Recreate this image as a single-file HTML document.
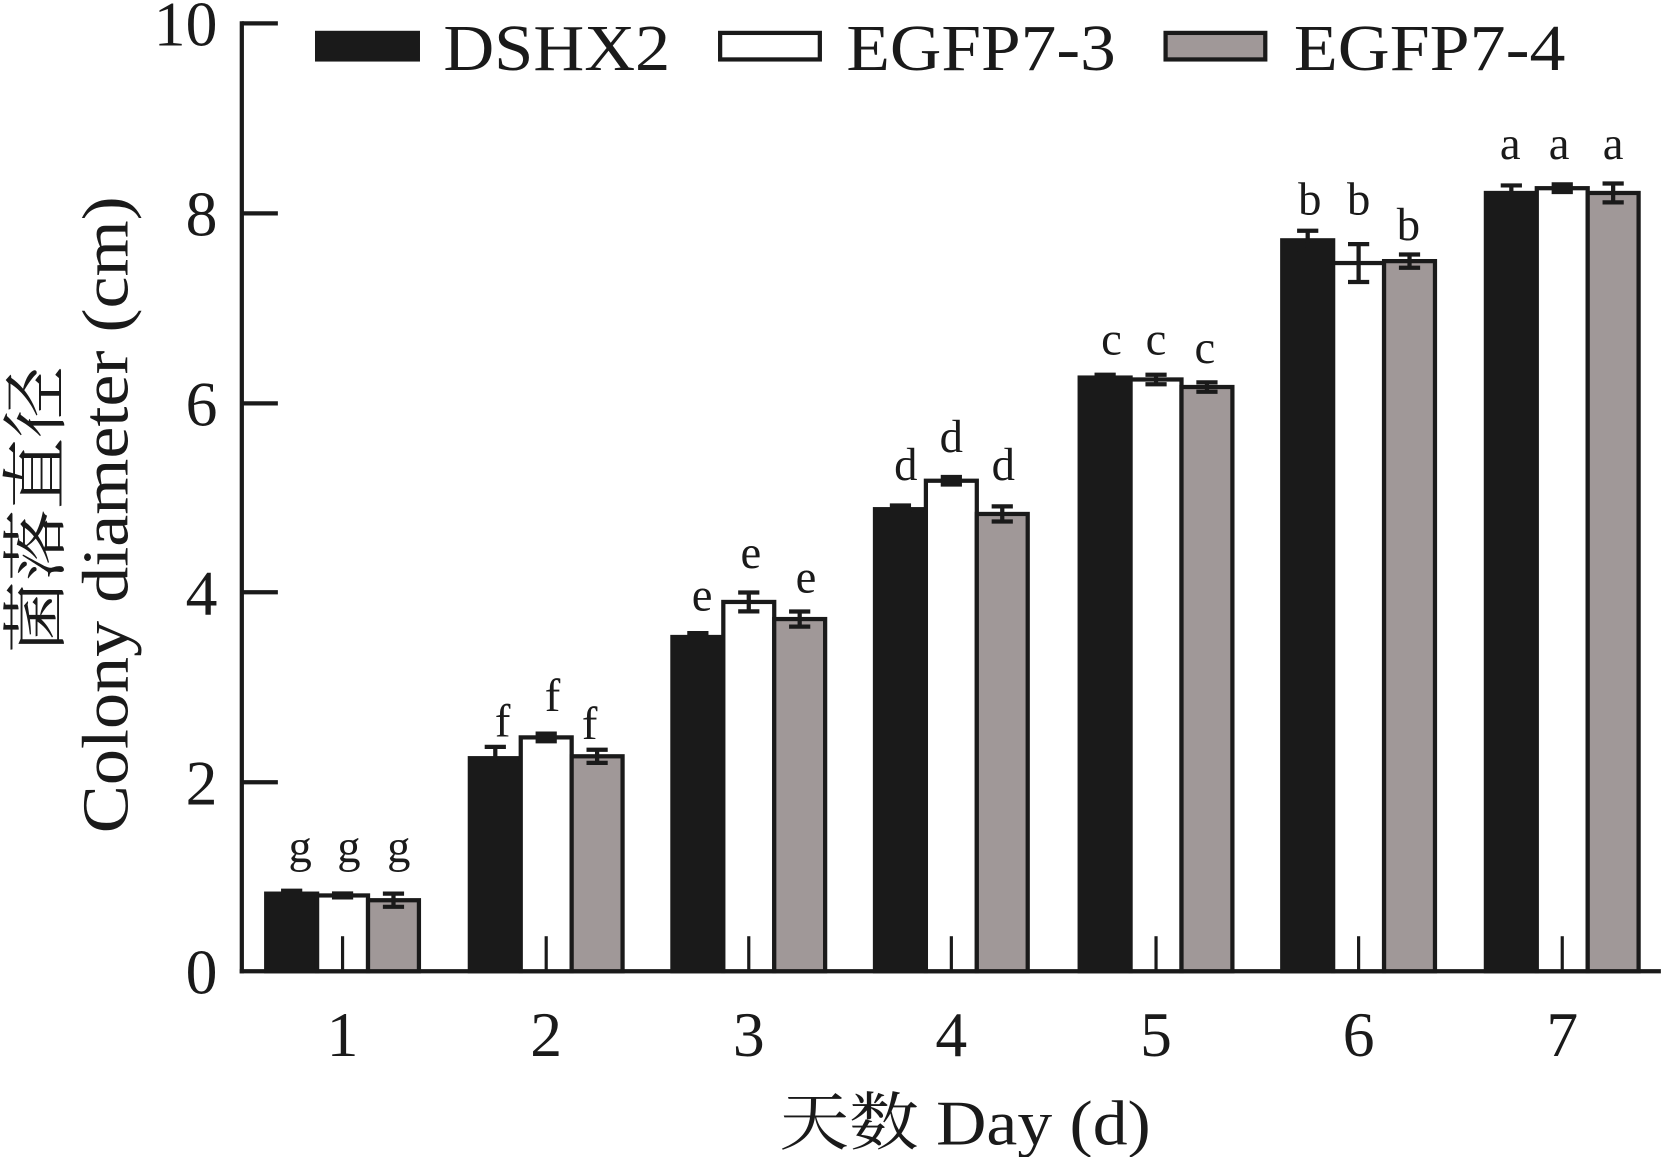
<!DOCTYPE html>
<html><head><meta charset="utf-8"><style>html,body{margin:0;padding:0;background:#fff}svg{display:block}</style></head><body>
<svg width="1663" height="1157" viewBox="0 0 1568 1090" preserveAspectRatio="none" xmlns="http://www.w3.org/2000/svg" font-family="Liberation Serif, Noto Serif CJK SC, serif">
<g stroke="#1a1a1a" stroke-width="4" fill="none">
<line x1="228" y1="20" x2="228" y2="917"/>
<line x1="226" y1="915" x2="1566" y2="915"/>
<line x1="228" y1="22" x2="262" y2="22"/>
<line x1="228" y1="201" x2="262" y2="201"/>
<line x1="228" y1="380" x2="262" y2="380"/>
<line x1="228" y1="558" x2="262" y2="558"/>
<line x1="228" y1="737" x2="262" y2="737"/>
</g>
<g font-size="60" text-anchor="end" fill="#1a1a1a">
<text x="205" y="43">10</text><text x="205" y="222">8</text><text x="205" y="401">6</text><text x="205" y="579">4</text><text x="205" y="758">2</text><text x="205" y="936">0</text>
</g>
<g stroke="#1a1a1a" stroke-width="4">
<!-- bars -->
<rect x="251" y="841.9" width="48" height="73.1" fill="#1a1a1a"/>
<rect x="299" y="843.6" width="48" height="71.4" fill="#fff"/>
<rect x="347" y="848.1" width="48" height="66.9" fill="#a09898"/>
<rect x="443" y="714.3" width="48" height="200.7" fill="#1a1a1a"/>
<rect x="491" y="694.7" width="48" height="220.3" fill="#fff"/>
<rect x="539" y="712.5" width="48" height="202.5" fill="#a09898"/>
<rect x="634" y="600.1" width="48" height="314.9" fill="#1a1a1a"/>
<rect x="682" y="567.1" width="48" height="347.9" fill="#fff"/>
<rect x="730" y="583.2" width="48" height="331.8" fill="#a09898"/>
<rect x="825" y="479.7" width="48" height="435.3" fill="#1a1a1a"/>
<rect x="873" y="452.9" width="48" height="462.1" fill="#fff"/>
<rect x="921" y="484.2" width="48" height="430.8" fill="#a09898"/>
<rect x="1018" y="355.7" width="48" height="559.3" fill="#1a1a1a"/>
<rect x="1066" y="357.5" width="48" height="557.5" fill="#fff"/>
<rect x="1114" y="364.6" width="48" height="550.4" fill="#a09898"/>
<rect x="1209" y="226.4" width="48" height="688.6" fill="#1a1a1a"/>
<rect x="1257" y="247.8" width="48" height="667.2" fill="#fff"/>
<rect x="1305" y="246.0" width="48" height="669" fill="#a09898"/>
<rect x="1401" y="181.8" width="48" height="733.2" fill="#1a1a1a"/>
<rect x="1449" y="177.3" width="48" height="737.7" fill="#fff"/>
<rect x="1497" y="181.8" width="48" height="733.2" fill="#a09898"/>
</g>
<g stroke="#1a1a1a" stroke-width="3">
<line x1="323" y1="882" x2="323" y2="915"/><line x1="515" y1="882" x2="515" y2="915"/><line x1="706" y1="882" x2="706" y2="915"/><line x1="897" y1="882" x2="897" y2="915"/><line x1="1090" y1="882" x2="1090" y2="915"/><line x1="1281" y1="882" x2="1281" y2="915"/><line x1="1473" y1="882" x2="1473" y2="915"/>
</g>
<g stroke="#1a1a1a" stroke-width="4" fill="none">
<path d="M275 839.2V844.6M265 839.2H285M265 844.6H285"/>
<path d="M323 841.8V845.4M313 841.8H333M313 845.4H333"/>
<path d="M371 841.9V854.3M361 841.9H381M361 854.3H381"/>
<path d="M467 703.6V725M457 703.6H477M457 725H477"/>
<path d="M515 691.1V698.3M505 691.1H525M505 698.3H525"/>
<path d="M563 706.3V718.7M553 706.3H573M553 718.7H573"/>
<path d="M658 596.5V603.7M648 596.5H668M648 603.7H668"/>
<path d="M706 558.2V576M696 558.2H716M696 576H716"/>
<path d="M754 576.1V590.3M744 576.1H764M744 590.3H764"/>
<path d="M849 476.2V483.3M839 476.2H859M839 483.3H859"/>
<path d="M897 449.4V456.5M887 449.4H907M887 456.5H907"/>
<path d="M945 477V491.3M935 477H955M935 491.3H955"/>
<path d="M1042 353V358.4M1032 353H1052M1032 358.4H1052"/>
<path d="M1090 353V362M1080 353H1100M1080 362H1100"/>
<path d="M1138 360.2V369.1M1128 360.2H1148M1128 369.1H1148"/>
<path d="M1233 217.4V235.3M1223 217.4H1243M1223 235.3H1243"/>
<path d="M1281 230V265.7M1271 230H1291M1271 265.7H1291"/>
<path d="M1329 239.8V252.3M1319 239.8H1339M1319 252.3H1339"/>
<path d="M1425 174.7V188.9M1415 174.7H1435M1415 188.9H1435"/>
<path d="M1473 173.7V180.9M1463 173.7H1483M1463 180.9H1483"/>
<path d="M1521 172.9V190.7M1511 172.9H1531M1511 190.7H1531"/>
</g>
<g font-size="44" text-anchor="middle" fill="#1a1a1a">
<text x="283" y="812">g</text><text x="329" y="812">g</text><text x="376" y="812">g</text>
<text x="474" y="694">f</text><text x="521" y="670">f</text><text x="556" y="696">f</text>
<text x="662" y="575">e</text><text x="708" y="535">e</text><text x="760" y="558">e</text>
<text x="854" y="452">d</text><text x="897" y="426">d</text><text x="946" y="452">d</text>
<text x="1048" y="334">c</text><text x="1090" y="334">c</text><text x="1136" y="342">c</text>
<text x="1235" y="202">b</text><text x="1281" y="202">b</text><text x="1328" y="226">b</text>
<text x="1424" y="150">a</text><text x="1470" y="150">a</text><text x="1521" y="150">a</text>
</g>
<g font-size="60" text-anchor="middle" fill="#1a1a1a">
<text x="323" y="995">1</text><text x="515" y="995">2</text><text x="706" y="995">3</text><text x="897" y="995">4</text><text x="1090" y="995">5</text><text x="1281" y="995">6</text><text x="1473" y="995">7</text>
<text x="910" y="1078" textLength="350" lengthAdjust="spacingAndGlyphs">天数 Day (d)</text>
</g>
<g font-size="62" text-anchor="middle" fill="#1a1a1a">
<text transform="translate(55,480) rotate(-90)" textLength="270" lengthAdjust="spacingAndGlyphs">菌落直径</text>
<text transform="translate(120,485) rotate(-90)" textLength="600" lengthAdjust="spacingAndGlyphs">Colony diameter (cm)</text>
</g>
<g stroke="#1a1a1a" stroke-width="4">
<rect x="299" y="31" width="95" height="25" fill="#1a1a1a"/>
<rect x="679" y="31" width="94" height="25" fill="#fff"/>
<rect x="1099" y="31" width="94" height="25" fill="#a09898"/>
</g>
<g font-size="62" fill="#1a1a1a">
<text x="418" y="66" textLength="214" lengthAdjust="spacingAndGlyphs">DSHX2</text>
<text x="798" y="66" textLength="254" lengthAdjust="spacingAndGlyphs">EGFP7-3</text>
<text x="1220" y="66" textLength="256" lengthAdjust="spacingAndGlyphs">EGFP7-4</text>
</g>
</svg>
</body></html>
